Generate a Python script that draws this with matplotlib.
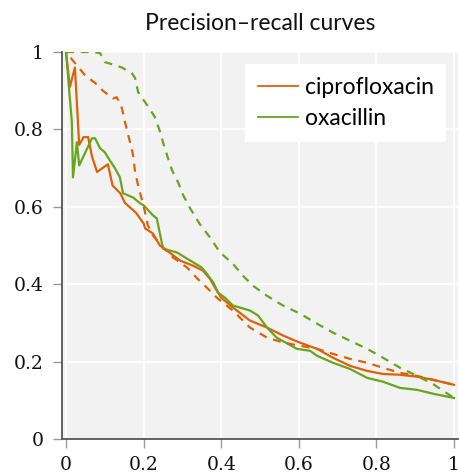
import matplotlib
matplotlib.use("Agg")
import matplotlib.pyplot as plt

# Precision-recall points for each model
cipro_recall = [0.0, 0.01, 0.023, 0.034, 0.045, 0.057, 0.067, 0.08, 0.108, 0.12, 0.14, 0.152,
                0.18, 0.2, 0.204, 0.224, 0.242, 0.26, 0.294, 0.327, 0.353, 0.371, 0.384, 0.40,
                0.43, 0.474, 0.518, 0.56, 0.603, 0.647, 0.688, 0.732, 0.776, 0.817, 0.86,
                0.905, 0.946, 1.0]
cipro_precision = [1.0, 0.91, 0.96, 0.76, 0.78, 0.78, 0.73, 0.69, 0.71, 0.655, 0.635, 0.61,
                   0.585, 0.557, 0.544, 0.531, 0.50, 0.487, 0.461, 0.448, 0.435, 0.414, 0.391,
                   0.365, 0.34, 0.306, 0.288, 0.267, 0.249, 0.233, 0.21, 0.189, 0.176, 0.168,
                   0.166, 0.161, 0.153, 0.14]

oxa_recall = [0.0, 0.015, 0.018, 0.028, 0.034, 0.067, 0.075, 0.088, 0.1, 0.113, 0.126, 0.139,
              0.147, 0.173, 0.191, 0.2, 0.224, 0.234, 0.25, 0.268, 0.286, 0.312, 0.35, 0.363,
              0.38, 0.392, 0.41, 0.43, 0.474, 0.495, 0.518, 0.543, 0.595, 0.629, 0.647, 0.688,
              0.732, 0.776, 0.817, 0.861, 0.905, 0.946, 1.0]
oxa_precision = [1.0, 0.82, 0.676, 0.767, 0.707, 0.777, 0.777, 0.751, 0.741, 0.72, 0.70, 0.676,
                 0.635, 0.624, 0.609, 0.604, 0.578, 0.57, 0.492, 0.487, 0.482, 0.466, 0.443,
                 0.427, 0.404, 0.378, 0.365, 0.345, 0.332, 0.319, 0.288, 0.262, 0.233, 0.228,
                 0.215, 0.197, 0.181, 0.158, 0.148, 0.132, 0.127, 0.117, 0.106]

cipro_base_recall = [0.012, 0.049, 0.075, 0.095, 0.121, 0.131, 0.144, 0.152, 0.165, 0.173,
                     0.178, 0.186, 0.196, 0.204, 0.211, 0.224, 0.25, 0.276, 0.312, 0.338,
                     0.363, 0.389, 0.43, 0.474, 0.518, 0.56, 0.603, 0.647, 0.688, 0.732,
                     0.776, 0.817, 0.861, 0.905, 0.946, 1.0]
cipro_base_precision = [0.985, 0.94, 0.92, 0.90, 0.88, 0.883, 0.855, 0.819, 0.767, 0.733,
                        0.69, 0.655, 0.617, 0.585, 0.552, 0.526, 0.495, 0.469, 0.443, 0.415,
                        0.391, 0.365, 0.332, 0.288, 0.262, 0.249, 0.241, 0.233, 0.22, 0.207,
                        0.197, 0.184, 0.171, 0.163, 0.153, 0.14]

oxa_base_recall = [0.0, 0.07, 0.088, 0.1, 0.113, 0.144, 0.17, 0.178, 0.186, 0.209, 0.229,
                   0.242, 0.25, 0.263, 0.273, 0.289, 0.302, 0.32, 0.345, 0.371, 0.397, 0.43,
                   0.456, 0.482, 0.518, 0.559, 0.603, 0.647, 0.688, 0.732, 0.776, 0.817,
                   0.861, 0.905, 0.946, 1.0]
oxa_base_precision = [1.0, 1.0, 0.997, 0.974, 0.97, 0.96, 0.945, 0.933, 0.896, 0.863, 0.832,
                      0.795, 0.767, 0.725, 0.695, 0.663, 0.63, 0.596, 0.555, 0.521, 0.482,
                      0.453, 0.422, 0.396, 0.37, 0.345, 0.324, 0.298, 0.275, 0.254, 0.233,
                      0.21, 0.184, 0.163, 0.142, 0.106]

ticks = [0, 0.2, 0.4, 0.6, 0.8, 1]
tick_labels = ["0", "0.2", "0.4", "0.6", "0.8", "1"]

ORANGE = "#df6107"
GREEN = "#66a61e"
LW = 1.6
DASH = (0, (3.6, 3.0))

fig = plt.figure(figsize=(4.59, 4.76), dpi=100)
ax = fig.add_axes([62 / 459, 37 / 476, 396 / 459, 387 / 476])
ax.set_facecolor("#f2f2f2")

ax.plot(cipro_recall, cipro_precision, color=ORANGE, lw=LW, label="ciprofloxacin")
ax.plot(oxa_recall, oxa_precision, color=GREEN, lw=LW, label="oxacillin")
ax.plot(cipro_base_recall, cipro_base_precision, color=ORANGE, lw=LW, linestyle=DASH)
ax.plot(oxa_base_recall, oxa_base_precision, color=GREEN, lw=LW, linestyle=DASH)

ax.set_xlim(-0.0103, 1.0103)
ax.set_ylim(0, 1)
ax.set_xticks(ticks)
ax.set_xticklabels(tick_labels)
ax.set_yticks(ticks)
ax.set_yticklabels(tick_labels)

ax.grid(True, color="white", lw=1.3)
ax.set_axisbelow(True)
for side in ("top", "right"):
    ax.spines[side].set_visible(False)
for side in ("left", "bottom"):
    ax.spines[side].set_color("#555555")
    ax.spines[side].set_linewidth(1.3)

ax.tick_params(axis="both", direction="out", length=6.5, width=1.0, color="#999999",
               labelsize=13.5, labelcolor="#111111")
ax.tick_params(axis="x", pad=6)
ax.tick_params(axis="y", pad=7)
for lbl in ax.get_xticklabels() + ax.get_yticklabels():
    lbl.set_family("DejaVu Serif")

ax.set_title("Precision\u2013recall curves", family="Lato", fontsize=16.5, pad=16,
             color="#111111")

leg = ax.legend(loc="upper right", bbox_to_anchor=(0.97, 0.969), frameon=True,
                fancybox=False, facecolor="white", edgecolor="none", framealpha=1,
                prop={"family": "Lato", "size": 16.5}, handlelength=1.75,
                handletextpad=0.3, borderpad=0.55, labelspacing=0.45, borderaxespad=0)
for line in leg.get_lines():
    line.set_linewidth(1.3)

fig.savefig("out.png", dpi=100)
